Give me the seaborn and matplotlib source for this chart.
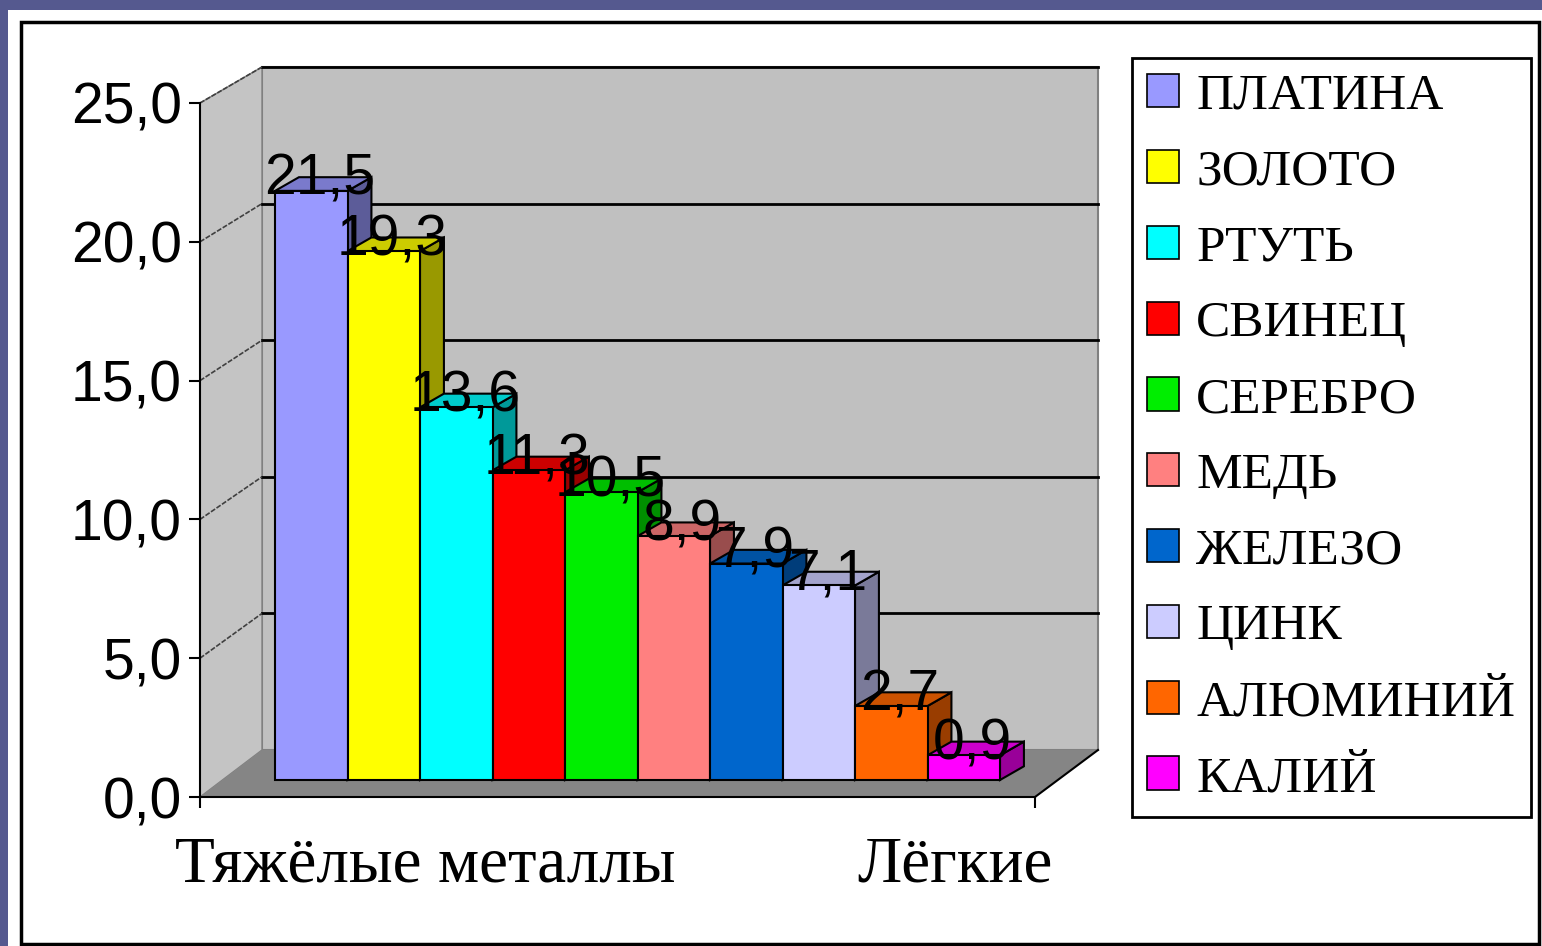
import numpy as np
import pandas as pd
import matplotlib.pyplot as plt
import matplotlib.colors as mcolors
from matplotlib.patches import Polygon, Rectangle, Patch
import seaborn as sns

# данные: плотность металлов, г/см3
metals = ['ПЛАТИНА', 'ЗОЛОТО', 'РТУТЬ', 'СВИНЕЦ', 'СЕРЕБРО', 'МЕДЬ',
          'ЖЕЛЕЗО', 'ЦИНК', 'АЛЮМИНИЙ', 'КАЛИЙ']
density = [21.5, 19.3, 13.6, 11.3, 10.5, 8.9, 7.9, 7.1, 2.7, 0.9]
colors = ['#9999ff', '#ffff00', '#00ffff', '#ff0000', '#00ee00', '#ff8080',
          '#0066cc', '#ccccff', '#ff6600', '#ff00ff']
yticks = [0, 5, 10, 15, 20, 25]
groups = ['Тяжёлые металлы', 'Лёгкие']
group_x = [1.57, 8.88]

W, H = 1542, 946
SANS = 'Liberation Sans'
SERIF = 'Liberation Serif'

# пиксельная геометрия "3D" рамки
BAR_PX, UNIT_PX = 72.5, 27.4
X0PX, Y0PX = 275, 780


def dx(px):
    return (px - X0PX) / BAR_PX - 0.5


def dy(py):
    return (Y0PX - py) / UNIT_PX


def yf(k):   # передняя ось
    return dy(797 - k * 27.76)


def yb(k):   # задняя стенка
    return dy(750 - k * 27.32)


fig = plt.figure(figsize=(W / 100, H / 100), dpi=100, facecolor='#55598f')
fig.add_artist(Rectangle((8 / W, 0), 1, 1 - 10 / H, transform=fig.transFigure,
                         facecolor='white', edgecolor='none', zorder=0))
fig.add_artist(Rectangle((21 / W, 2 / H), 1518 / W, 922 / H, transform=fig.transFigure,
                         facecolor='none', edgecolor='black', lw=2.5, zorder=1))

ax = fig.add_axes([200 / W, 1 - 805 / H, 900 / W, 745 / H])
ax.patch.set_visible(False)

sns.barplot(x=metals, y=density, hue=metals, palette=colors, width=1.0,
            saturation=1, edgecolor='black', linewidth=1.5, legend=False, ax=ax)
bars = list(ax.patches)

xl, xr_f, xr_b, xl_b = dx(200), dx(1035), dx(1098), dx(262)
ax.set_xlim(dx(200), dx(1100))
ax.set_ylim(dy(805), dy(60))

# стенки и пол
ax.add_patch(Rectangle((xl_b, yb(0)), xr_b - xl_b, yb(25) - yb(0),
                       facecolor='#c0c0c0', edgecolor='#808080', lw=1.5, zorder=0))
ax.add_patch(Polygon([(xl, yf(0)), (xl_b, yb(0)), (xl_b, yb(25)), (xl, yf(25))],
                     facecolor='#c4c4c4', edgecolor='#808080', lw=1, zorder=0))
ax.add_patch(Polygon([(xl, yf(0)), (xr_f, yf(0)), (xr_b, yb(0)), (xl_b, yb(0))],
                     facecolor='#858585', edgecolor='none', zorder=1))
ax.plot([xr_f, xr_b], [yf(0), yb(0)], color='black', lw=1.5, zorder=1)
for k in yticks[1:]:
    ax.plot([xl_b, xr_b], [yb(k), yb(k)], color='black', lw=2, zorder=0.5)
    ax.plot([xl, xl_b], [yf(k), yb(k)], color='#404040', lw=1.2, ls=(0, (3, 1)), zorder=0.5)

# объём столбиков
ddx, ddy = 0.33, 0.5
for i, p in enumerate(bars):
    x0, w, h = p.get_x(), p.get_width(), p.get_height()
    c = np.array(mcolors.to_rgb(p.get_facecolor()))
    p.set_zorder(3 + i + 0.5)
    ax.add_patch(Polygon([(x0 + w, 0), (x0 + w + ddx, ddy), (x0 + w + ddx, h + ddy), (x0 + w, h)],
                         facecolor=c * 0.6, edgecolor='black', lw=1.5, zorder=3 + i))
    ax.add_patch(Polygon([(x0, h), (x0 + w, h), (x0 + w + ddx, h + ddy), (x0 + ddx, h + ddy)],
                         facecolor=c * 0.8, edgecolor='black', lw=1.5, zorder=3 + i))
    ax.text(x0 + w / 2 + 0.12, h + 0.4, f'{h:.1f}'.replace('.', ','), ha='center', va='center',
            fontsize=41, family=SANS, zorder=100)

# оси
for s in ['top', 'right']:
    ax.spines[s].set_visible(False)
ax.spines['left'].set_bounds(yf(0), yf(25))
ax.spines['left'].set_linewidth(1.5)
ax.spines['bottom'].set_position(('data', yf(0)))
ax.spines['bottom'].set_bounds(xl, xr_f)
ax.spines['bottom'].set_linewidth(1.5)
ax.set_yticks([yf(k) for k in yticks])
ax.set_yticklabels([f'{k:.1f}'.replace('.', ',') for k in yticks], fontsize=41, family=SANS)
ax.set_xticks([xl, xr_f])
ax.set_xticklabels(['', ''])
ax.tick_params(axis='both', direction='out', length=8, width=1.5, pad=5)
ax.set_xlabel('')

for g, gx in zip(groups, group_x):
    ax.text(gx, dy(866), g, ha='center', va='center', fontsize=47, family=SERIF, clip_on=False)

handles = [Patch(facecolor=c, edgecolor='black', lw=1.2) for c in colors]
leg = fig.legend(handles, metals, loc='upper left', bbox_to_anchor=(1132 / W, 1 - 58 / H),
                 frameon=True, fancybox=False, edgecolor='black', framealpha=1,
                 borderaxespad=0, prop={'family': SERIF, 'size': 37},
                 handlelength=0.62, handleheight=0.62, handletextpad=0.33,
                 labelspacing=0.57, borderpad=0.3)
leg.get_frame().set_linewidth(2)

fig.savefig('out.png', dpi=100, facecolor=fig.get_facecolor())
